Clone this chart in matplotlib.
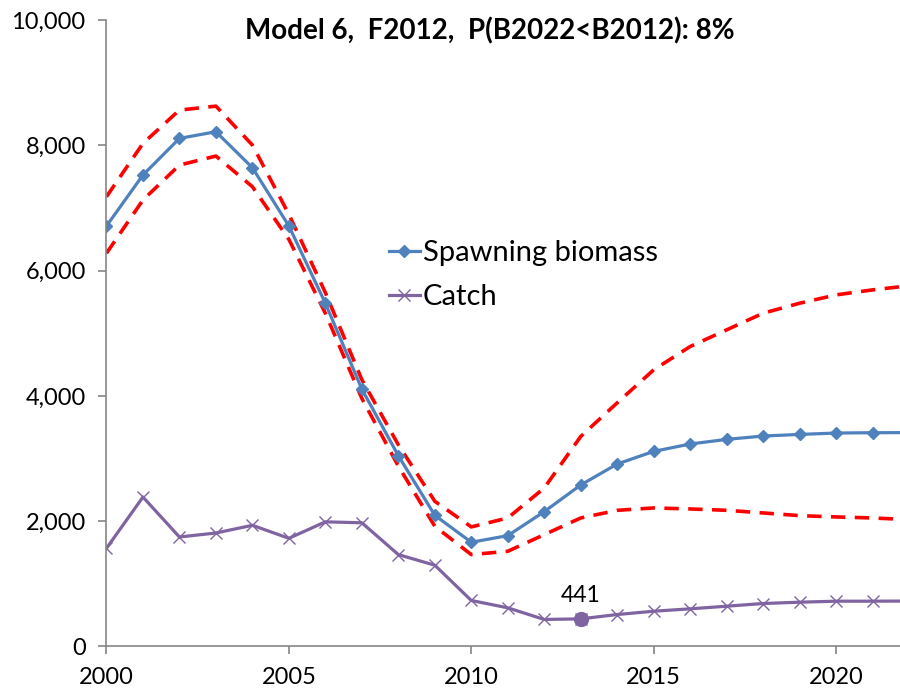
import matplotlib
matplotlib.use('Agg')
import matplotlib.pyplot as plt
from matplotlib.ticker import FuncFormatter

plt.rcParams['font.family'] = ['Lato', 'DejaVu Sans']

years = list(range(2000, 2023))

# spawning biomass and its interval
ssb = [6714, 7528, 8113, 8219, 7645, 6714, 5481, 4110, 3046, 2094, 1664, 1770,
       2153, 2579, 2914, 3115, 3233, 3307, 3360, 3386, 3408, 3413, 3415]
ssb_hi = [7182, 8033, 8565, 8628, 8006, 6900, 5650, 4260, 3220, 2318, 1909, 2052,
          2531, 3354, 3891, 4418, 4790, 5056, 5322, 5481, 5614, 5694, 5760]
ssb_lo = [6279, 7129, 7687, 7831, 7341, 6500, 5320, 3960, 2880, 1919, 1467, 1520,
          1786, 2052, 2174, 2212, 2196, 2174, 2132, 2089, 2068, 2052, 2025]

catch = [1568, 2386, 1748, 1812, 1935, 1727, 1990, 1975, 1467, 1297, 734, 617,
         431, 441, 510, 563, 601, 643, 686, 707, 723, 723, 725]

hl_year = 2013
hl_val = 441

title = 'Model 6,  F2012,  P(B2022<B2012): 8%'

fig = plt.figure(figsize=(9, 6.92), dpi=100)
ax = fig.add_axes([0.1183, 0.0658, 0.8817, 0.905])

red = '#FF0000'
ax.plot(years, ssb_hi, color=red, lw=2.6, ls=(0, (4, 2.6)))
ax.plot(years, ssb_lo, color=red, lw=2.6, ls=(0, (4, 2.6)))
ax.plot(years, ssb, color='#4F81BD', lw=2.3, marker='D', ms=6.5,
        label='Spawning biomass')
ax.plot(years, catch, color='#8064A2', lw=2.3, marker='x', ms=8, mew=1,
        label='Catch')
ax.plot([hl_year], [hl_val], 'o', color='#8064A2', ms=10)
ax.annotate(str(hl_val), (hl_year, hl_val), xytext=(0, 9),
            textcoords='offset points', ha='center', va='bottom', fontsize=16.5)

ax.set_xlim(2000, 2021.75)
ax.set_ylim(0, 10000)
ax.set_xticks([2000, 2005, 2010, 2015, 2020])
ax.set_yticks(range(0, 10001, 2000))
ax.yaxis.set_major_formatter(FuncFormatter(lambda v, p: '{:,.0f}'.format(v)))
ax.tick_params(labelsize=17, length=6, color='#868686', width=1.2, pad=9)

for s in ['top', 'right']:
    ax.spines[s].set_visible(False)
for s in ['left', 'bottom']:
    ax.spines[s].set_color('#868686')
    ax.spines[s].set_linewidth(1.2)

fig.text(490 / 900, 1 - 31 / 692, title, ha='center', va='center',
         fontsize=20, fontweight='bold')

ax.legend(loc='center left', bbox_to_anchor=(389 / 900, 1 - 275 / 692),
          bbox_transform=fig.transFigure, frameon=False, fontsize=21,
          borderpad=0, borderaxespad=0, handlelength=1.05, handletextpad=0.1,
          labelspacing=0.62)

fig.savefig('out.png', dpi=100)
